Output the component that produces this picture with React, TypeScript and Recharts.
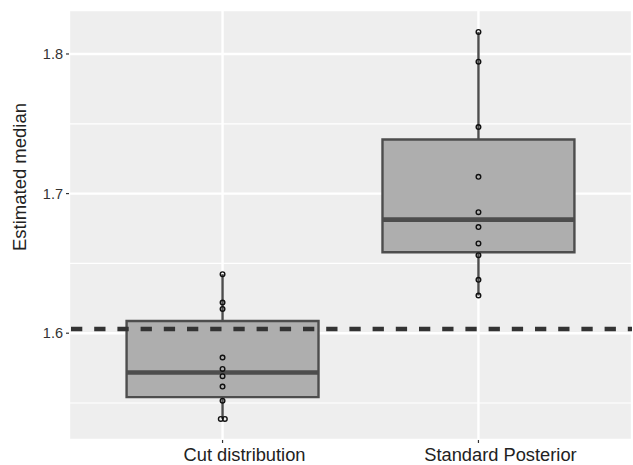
import {
  ComposedChart, Scatter, XAxis, YAxis, CartesianGrid, ReferenceArea, ReferenceLine,
} from "recharts";

const categories = ["Cut distribution", "Standard Posterior"];
const categoryPositions = [1, 2];

// estimated medians per run
const cutValues = [1.6423, 1.622, 1.6174, 1.5826, 1.5744, 1.5692, 1.5618, 1.5517, 1.5386, 1.5386];
const cutJitter = [0, 0, 0, 0, 0, 0, 0, 0, -0.007, 0.009];
const standardValues = [1.8158, 1.7945, 1.7477, 1.712, 1.6867, 1.676, 1.6643, 1.6559, 1.6382, 1.627];
const standardJitter = [0, 0, 0, 0, 0, 0, 0, 0, 0, 0];

const trueValue = 1.603;
const yTicks = [1.6, 1.7, 1.8];
const yMinorTicks = [1.55, 1.65, 1.75];
const yDomain = [1.5235, 1.8315];

const font = "'Liberation Sans', Arial, Helvetica, sans-serif";
const boxHalf = 0.375;

// ggplot / R type 7 quantile
function quantile(values: number[], p: number) {
  const s = [...values].sort((a, b) => a - b);
  const h = (s.length - 1) * p;
  const lo = Math.floor(h);
  const hi = Math.min(lo + 1, s.length - 1);
  return s[lo] + (h - lo) * (s[hi] - s[lo]);
}

function boxStats(values: number[], x: number) {
  return {
    x,
    min: Math.min(...values),
    q1: quantile(values, 0.25),
    med: quantile(values, 0.5),
    q3: quantile(values, 0.75),
    max: Math.max(...values),
  };
}

const boxes = [
  boxStats(cutValues, categoryPositions[0]),
  boxStats(standardValues, categoryPositions[1]),
];

const points = [
  ...cutValues.map((y, i) => ({ x: categoryPositions[0] + cutJitter[i], y })),
  ...standardValues.map((y, i) => ({ x: categoryPositions[1] + standardJitter[i], y })),
];

function XTick(props: any) {
  const { x, y, payload } = props;
  const idx = categoryPositions.indexOf(payload.value);
  return (
    <text x={x + 22} y={y} dy="0.71em" textAnchor="middle" fontSize={18.3} fill="#222" fontFamily={font}>
      {categories[idx]}
    </text>
  );
}

export default function App() {
  return (
    <div style={{ position: "fixed", left: 0, top: 0, width: 633, height: 465, background: "#fff" }}>
      <ComposedChart width={633} height={465} data={points} margin={{ top: 10, right: 1, bottom: 0, left: 0 }}>
        <CartesianGrid fill="#EEEEEE" fillOpacity={1} stroke="#FFFFFF" strokeWidth={2.4} />
        <XAxis
          type="number" dataKey="x" domain={[0.4, 2.6]} ticks={categoryPositions}
          allowDataOverflow height={25} axisLine={false}
          tickSize={3} tickMargin={5} tickLine={{ stroke: "#333", strokeWidth: 1.2 }}
          tick={<XTick />} interval={0}
        />
        <YAxis
          type="number" dataKey="y" domain={yDomain} ticks={yTicks} allowDataOverflow
          width={69} axisLine={false} tickSize={3} tickMargin={3}
          tickLine={{ stroke: "#333", strokeWidth: 1.2 }}
          tickFormatter={(v: number) => v.toFixed(1)}
          tick={{ fontSize: 14.5, fill: "#333", fontFamily: font }}
        />
        {yMinorTicks.map((v) => (
          <ReferenceLine key={"m" + v} y={v} stroke="#FFFFFF" strokeWidth={1.2} />
        ))}
        {boxes.map((b) => (
          <ReferenceArea
            key={"box" + b.x} x1={b.x - boxHalf} x2={b.x + boxHalf} y1={b.q1} y2={b.q3}
            fill="#AEAEAE" fillOpacity={1} stroke="#4D4D4D" strokeWidth={2.4}
          />
        ))}
        {boxes.map((b) => (
          <ReferenceLine key={"wu" + b.x} segment={[{ x: b.x, y: b.q3 }, { x: b.x, y: b.max }]} stroke="#4D4D4D" strokeWidth={2.4} />
        ))}
        {boxes.map((b) => (
          <ReferenceLine key={"wl" + b.x} segment={[{ x: b.x, y: b.q1 }, { x: b.x, y: b.min }]} stroke="#4D4D4D" strokeWidth={2.4} />
        ))}
        {boxes.map((b) => (
          <ReferenceLine
            key={"md" + b.x} segment={[{ x: b.x - boxHalf, y: b.med }, { x: b.x + boxHalf, y: b.med }]}
            stroke="#4D4D4D" strokeWidth={4.6}
          />
        ))}
        <Scatter
          data={points} dataKey="y" isAnimationActive={false}
          shape={(p: any) => <circle cx={p.cx} cy={p.cy} r={2.3} fill="none" stroke="#111" strokeWidth={1.4} />}
        />
        <ReferenceLine y={trueValue} stroke="#333333" strokeWidth={4.5} strokeDasharray="11.3 11.9" strokeDashoffset={-2} />
      </ComposedChart>
      <div
        style={{
          position: "absolute", left: 20, top: 177, transform: "translate(-50%, -50%) rotate(-90deg)",
          whiteSpace: "nowrap", fontSize: 18.5, color: "#222", fontFamily: font,
        }}
      >
        Estimated median
      </div>
    </div>
  );
}
